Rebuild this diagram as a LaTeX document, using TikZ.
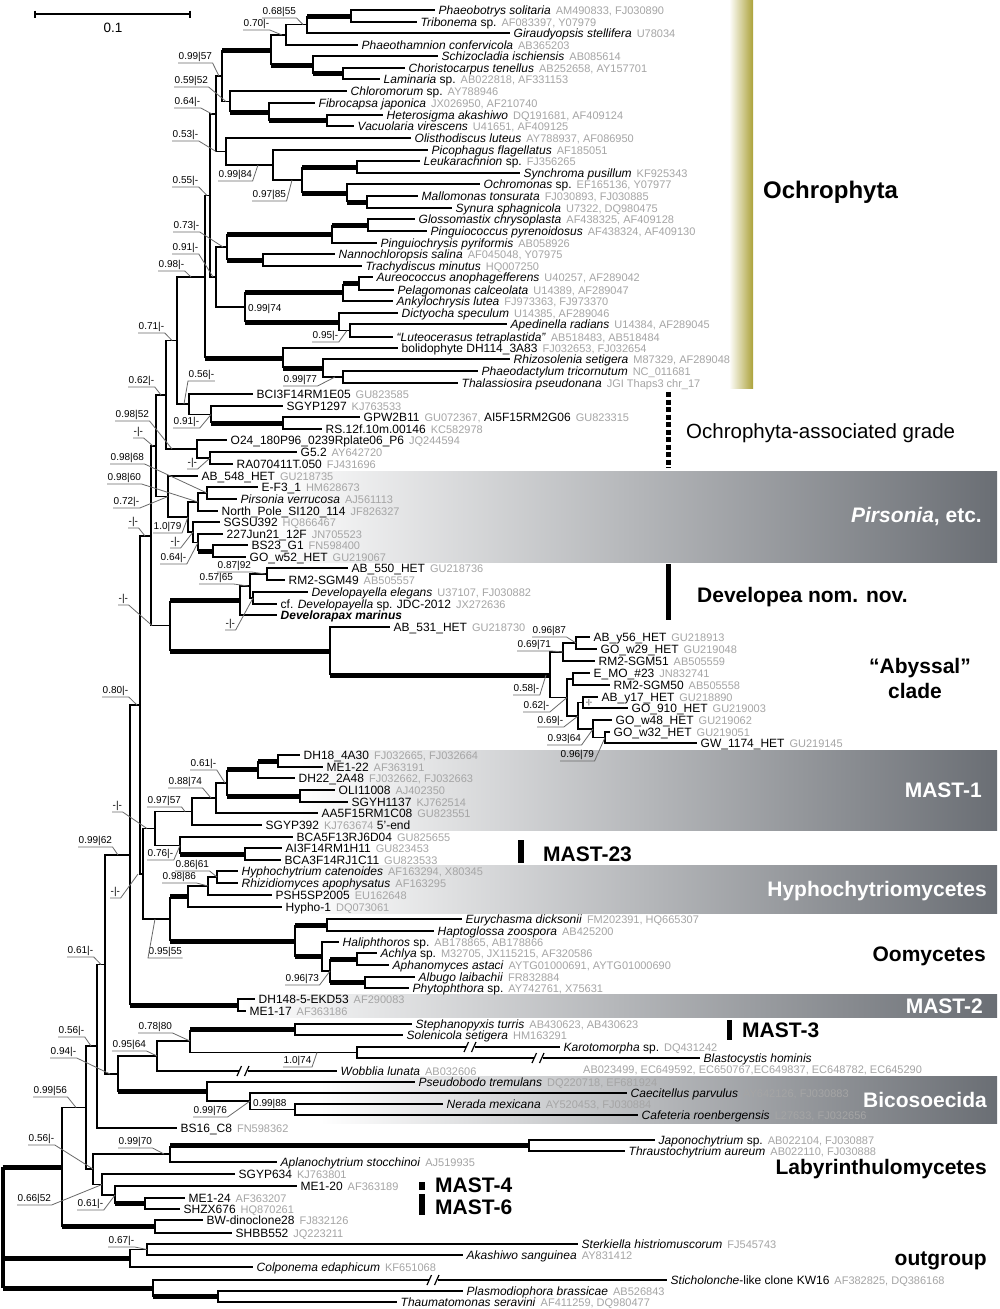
\documentclass[tikz,border=0pt]{standalone}
\usepackage{fontspec}
\setmainfont{Liberation Sans}
\usetikzlibrary{calc}
\definecolor{accg}{RGB}{165,165,165}
\definecolor{boxg}{RGB}{106,110,116}
\definecolor{oliv}{RGB}{172,162,58}
\definecolor{ptrg}{RGB}{105,105,105}
\newcommand\spnm[1]{\textit{#1}}
\newcommand\accn[1]{\hspace{5pt}{\fontsize{11}{11}\selectfont\color{accg}#1}}
\newcommand\lfx[4]{\coordinate (#1) at (#2,#3);\node[leaf] (#1l) at (#1) {#4};}
\newcommand\ndx[3]{\coordinate (#1) at (#2,#3);}
\newcommand\edx[2]{\draw[brn] (#1) |- (#2);}
\newcommand\etx[2]{\draw[brn] (#1) -- (#1|-#2);\draw[brt] (#1|-#2) -- (#2);}
\newcommand\svx[5]{\node[sup] (#1) at (#2,#3) {#4};\draw[ptr] (#1.south west) -- (#1.south east) -- (#5);}
\newcommand\svwx[5]{\node[sup] (#1) at (#2,#3) {#4};\draw[ptr] (#1.south east) -- (#1.south west) -- (#5);}
\newcommand\brkm[2]{\fill[white] (#1-4.5,#2-3) rectangle (#1+4.5,#2+3);
  \draw[line width=1.2pt] (#1-6,#2+5) -- (#1-1.5,#2-5) (#1+1.5,#2+5) -- (#1+6,#2-5);}
\begin{document}
\begin{tikzpicture}[x=1pt,y=-1pt,
  brn/.style={line width=1.6pt},
  brt/.style={line width=5pt},
  leaf/.style={anchor=base west,inner xsep=3.5pt,inner ysep=0pt,yshift=-4pt,font=\fontsize{12}{12}\selectfont},
  sup/.style={anchor=south west,inner xsep=0.5pt,inner ysep=1pt,font=\fontsize{10}{10}\selectfont},
  ptr/.style={draw=ptrg,line width=0.8pt},
  bl/.style={inner sep=0pt,font=\fontsize{21}{21}\selectfont\bfseries}]
\useasboundingbox (0,0) rectangle (1000,1309);
\fill[white] (0,0) rectangle (1000,1309);
% ---------- shaded boxes ----------
\shade[left color=white,right color=oliv] (729,0) rectangle (753,388);
\shade[left color=white,right color=boxg] (270,471) rectangle (997,562);
\shade[left color=white,right color=boxg] (300,750) rectangle (997,830);
\shade[left color=white,right color=boxg] (300,865) rectangle (997,913);
\shade[left color=white,right color=boxg] (240,994) rectangle (997,1017);
\shade[left color=white,right color=boxg] (320,1076) rectangle (997,1123);
% ---------- scale bar ----------
\coordinate (sb1) at (35,14); \coordinate (sb2) at (190,14);
\draw[line width=1.5pt] (sb1) -- (sb2);
\draw[line width=1.5pt] (35,10.5) -- (35,17.5) (190,10.5) -- (190,17.5);
\node[anchor=base,inner sep=0pt,font=\fontsize{13.5}{13.5}\selectfont] (sbl) at (113,32) {0.1};
% ---------- leaves ----------
\lfx{L1}{435}{10}{\spnm{Phaeobotrys solitaria}\accn{AM490833, FJ030890}}
\lfx{L2}{417}{22}{\spnm{Tribonema} sp.\accn{AF083397, Y07979}}
\lfx{L3}{510}{33}{\spnm{Giraudyopsis stellifera}\accn{U78034}}
\lfx{L4}{358}{45}{\spnm{Phaeothamnion confervicola}\accn{AB365203}}
\lfx{L5}{438}{56}{\spnm{Schizocladia ischiensis}\accn{AB085614}}
\lfx{L6}{405}{68}{\spnm{Choristocarpus tenellus}\accn{AB252658, AY157701}}
\lfx{L7}{380}{79}{\spnm{Laminaria} sp.\accn{AB022818, AF331153}}
\lfx{L8}{347}{91}{\spnm{Chloromorum} sp.\accn{AY788946}}
\lfx{L9}{315}{103}{\spnm{Fibrocapsa japonica}\accn{JX026950, AF210740}}
\lfx{L10}{383}{115}{\spnm{Heterosigma akashiwo}\accn{DQ191681, AF409124}}
\lfx{L11}{354}{126}{\spnm{Vacuolaria virescens}\accn{U41651, AF409125}}
\lfx{L12}{411}{138}{\spnm{Olisthodiscus luteus}\accn{AY788937, AF086950}}
\lfx{L13}{428}{150}{\spnm{Picophagus flagellatus}\accn{AF185051}}
\lfx{L14}{420}{161}{\spnm{Leukarachnion} sp.\accn{FJ356265}}
\lfx{L15}{520}{173}{\spnm{Synchroma pusillum}\accn{KF925343}}
\lfx{L16}{480}{184}{\spnm{Ochromonas} sp.\accn{EF165136, Y07977}}
\lfx{L17}{418}{196}{\spnm{Mallomonas tonsurata}\accn{FJ030893, FJ030885}}
\lfx{L18}{452}{208}{\spnm{Synura sphagnicola}\accn{U7322, DQ980475}}
\lfx{L19}{415}{219}{\spnm{Glossomastix chrysoplasta}\accn{AF438325, AF409128}}
\lfx{L20}{427}{231}{\spnm{Pinguiococcus pyrenoidosus}\accn{AF438324, AF409130}}
\lfx{L21}{377}{243}{\spnm{Pinguiochrysis pyriformis}\accn{AB058926}}
\lfx{L22}{335}{254}{\spnm{Nannochloropsis salina}\accn{AF045048, Y07975}}
\lfx{L23}{362}{266}{\spnm{Trachydiscus minutus}\accn{HQ007250}}
\lfx{L24}{373}{277}{\spnm{Aureococcus anophagefferens}\accn{U40257, AF289042}}
\lfx{L25}{394}{290}{\spnm{Pelagomonas calceolata}\accn{U14389, AF289047}}
\lfx{L26}{393}{301}{\spnm{Ankylochrysis lutea}\accn{FJ973363, FJ973370}}
\lfx{L27}{398}{313}{\spnm{Dictyocha speculum}\accn{U14385, AF289046}}
\lfx{L28}{507}{324}{\spnm{Apedinella radians}\accn{U14384, AF289045}}
\lfx{L29}{393}{337}{\spnm{“Luteocerasus tetraplastida”}\accn{AB518483, AB518484}}
\lfx{L30}{398}{348}{bolidophyte DH114\_3A83\accn{FJ032653, FJ032654}}
\lfx{L31}{510}{359}{\spnm{Rhizosolenia setigera}\accn{M87329, AF289048}}
\lfx{L32}{478}{371}{\spnm{Phaeodactylum tricornutum}\accn{NC\_011681}}
\lfx{L33}{458}{383}{\spnm{Thalassiosira pseudonana}\accn{JGI Thaps3 chr\_17}}
\lfx{L34}{253}{394}{BCI3F14RM1E05\accn{GU823585}}
\lfx{L35}{283}{406}{SGYP1297\accn{KJ763533}}
\lfx{L36}{360}{417}{GPW2B11\accn{GU072367,} AI5F15RM2G06\accn{GU823315}}
\lfx{L37}{322}{429}{RS.12f.10m.00146\accn{KC582978}}
\lfx{L38}{227}{440}{O24\_180P96\_0239Rplate06\_P6\accn{JQ244594}}
\lfx{L39}{297}{452}{G5.2\accn{AY642720}}
\lfx{L40}{233}{464}{RA070411T.050\accn{FJ431696}}
\lfx{L41}{198}{476}{AB\_548\_HET\accn{GU218735}}
\lfx{L42}{258}{487}{E-F3\_1\accn{HM628673}}
\lfx{L43}{237}{499}{\spnm{Pirsonia verrucosa}\accn{AJ561113}}
\lfx{L44}{218}{511}{North\_Pole\_SI120\_114\accn{JF826327}}
\lfx{L45}{220}{522}{SGSU392\accn{HQ866467}}
\lfx{L46}{223}{534}{227Jun21\_12F\accn{JN705523}}
\lfx{L47}{248}{545}{BS23\_G1\accn{FN598400}}
\lfx{L48}{246}{557}{GO\_w52\_HET\accn{GU219067}}
\lfx{L49}{348}{568}{AB\_550\_HET\accn{GU218736}}
\lfx{L50}{285}{580}{RM2-SGM49\accn{AB505557}}
\lfx{L51}{308}{592}{\spnm{Developayella elegans}\accn{U37107, FJ030882}}
\lfx{L52}{277}{604}{cf. \spnm{Developayella} sp. JDC-2012\accn{JX272636}}
\lfx{L53}{277}{615}{\textbf{\textit{Develorapax marinus}}}
\lfx{L54}{390}{627}{AB\_531\_HET\accn{GU218730}}
\lfx{L55}{590}{637}{AB\_y56\_HET\accn{GU218913}}
\lfx{L56}{597}{649}{GO\_w29\_HET\accn{GU219048}}
\lfx{L57}{595}{661}{RM2-SGM51\accn{AB505559}}
\lfx{L58}{590}{673}{E\_MO\_\#23\accn{JN832741}}
\lfx{L59}{610}{685}{RM2-SGM50\accn{AB505558}}
\lfx{L60}{598}{697}{AB\_y17\_HET\accn{GU218890}}
\lfx{L61}{628}{708}{GO\_910\_HET\accn{GU219003}}
\lfx{L62}{612}{720}{GO\_w48\_HET\accn{GU219062}}
\lfx{L63}{610}{732}{GO\_w32\_HET\accn{GU219051}}
\lfx{L64}{697}{743}{GW\_1174\_HET\accn{GU219145}}
\lfx{L65}{300}{755}{DH18\_4A30\accn{FJ032665, FJ032664}}
\lfx{L66}{323}{767}{ME1-22\accn{AF363191}}
\lfx{L67}{295}{778}{DH22\_2A48\accn{FJ032662, FJ032663}}
\lfx{L68}{335}{790}{OLI11008\accn{AJ402350}}
\lfx{L69}{348}{802}{SGYH1137\accn{KJ762514}}
\lfx{L70}{318}{813}{AA5F15RM1C08\accn{GU823551}}
\lfx{L71}{262}{825}{SGYP392\accn{KJ763674} 5’-end}
\lfx{L72}{293}{837}{BCA5F13RJ6D04\accn{GU825655}}
\lfx{L73}{282}{848}{AI3F14RM1H11\accn{GU823453}}
\lfx{L74}{281}{860}{BCA3F14RJ1C11\accn{GU823533}}
\lfx{L75}{238}{871}{\spnm{Hyphochytrium catenoides}\accn{AF163294, X80345}}
\lfx{L76}{238}{883}{\spnm{Rhizidiomyces apophysatus}\accn{AF163295}}
\lfx{L77}{272}{895}{PSH5SP2005\accn{EU162648}}
\lfx{L78}{282}{907}{Hypho-1\accn{DQ073061}}
\lfx{L79}{462}{919}{\spnm{Eurychasma dicksonii}\accn{FM202391, HQ665307}}
\lfx{L80}{434}{931}{\spnm{Haptoglossa zoospora}\accn{AB425200}}
\lfx{L81}{339}{942}{\spnm{Haliphthoros} sp.\accn{AB178865, AB178866}}
\lfx{L82}{377}{953}{\spnm{Achlya} sp.\accn{M32705, JX115215, AF320586}}
\lfx{L83}{389}{965}{\spnm{Aphanomyces astaci}\accn{AYTG01000691, AYTG01000690}}
\lfx{L84}{415}{977}{\spnm{Albugo laibachii}\accn{FR832884}}
\lfx{L85}{409}{988}{\spnm{Phytophthora} sp.\accn{AY742761, X75631}}
\lfx{L86}{255}{999}{DH148-5-EKD53\accn{AF290083}}
\lfx{L87}{246}{1011}{ME1-17\accn{AF363186}}
\lfx{L88}{412}{1024}{\spnm{Stephanopyxis turris}\accn{AB430623, AB430623}}
\lfx{L89}{403}{1035}{\spnm{Solenicola setigera}\accn{HM163291}}
\lfx{L90}{560}{1047}{\spnm{Karotomorpha} sp.\accn{DQ431242}}
\lfx{L91}{700}{1058}{\spnm{Blastocystis hominis}}
\node[anchor=base west,inner sep=0pt,font=\fontsize{11}{11}\selectfont,text=accg] (L91acc) at (583,1073) {AB023499, EC649592, EC650767,EC649837, EC648782, EC645290};
\lfx{L92}{337}{1071}{\spnm{Wobblia lunata}\accn{AB032606}}
\lfx{L93}{415}{1082}{\spnm{Pseudobodo tremulans}\accn{DQ220718, EF681924}}
\lfx{L94}{627}{1093}{\spnm{Caecitellus parvulus}\accn{AY642126, FJ030883}}
\lfx{L95}{443}{1104}{\spnm{Nerada mexicana}\accn{AY520453, FJ030884}}
\lfx{L96}{638}{1115}{\spnm{Cafeteria roenbergensis}\accn{L27633, FJ032656}}
\lfx{L97}{177}{1128}{BS16\_C8\accn{FN598362}}
\lfx{L98}{655}{1140}{\spnm{Japonochytrium} sp.\accn{AB022104, FJ030887}}
\lfx{L99}{625}{1151}{\spnm{Thraustochytrium aureum}\accn{AB022110, FJ030888}}
\lfx{L100}{277}{1162}{\spnm{Aplanochytrium stocchinoi}\accn{AJ519935}}
\lfx{L101}{235}{1174}{SGYP634\accn{KJ763801}}
\lfx{L102}{297}{1186}{ME1-20\accn{AF363189}}
\lfx{L103}{185}{1198}{ME1-24\accn{AF363207}}
\lfx{L104}{180}{1209}{SHZX676\accn{HQ870261}}
\lfx{L105}{203}{1220}{BW-dinoclone28\accn{FJ832126}}
\lfx{L106}{232}{1233}{SHBB552\accn{JQ223211}}
\lfx{L107}{578}{1244}{\spnm{Sterkiella histriomuscorum}\accn{FJ545743}}
\lfx{L108}{463}{1255}{\spnm{Akashiwo sanguinea}\accn{AY831412}}
\lfx{L109}{253}{1267}{\spnm{Colponema edaphicum}\accn{KF651068}}
\lfx{L110}{667}{1280}{\spnm{Sticholonche}-like clone KW16\accn{AF382825, DQ386168}}
\lfx{L111}{463}{1291}{\spnm{Plasmodiophora brassicae}\accn{AB526843}}
\lfx{L112}{397}{1302}{\spnm{Thaumatomonas seravini}\accn{AF411259, DQ980477}}
% ---------- internal nodes ----------
\ndx{n1}{351}{16}\ndx{n2}{307}{24.5}\ndx{n3}{286}{35}\ndx{n4}{343}{73.5}
\ndx{n5}{313}{65}\ndx{n6}{271}{50}\ndx{n7}{327}{120.5}\ndx{n8}{269}{112}
\ndx{n9}{230}{101.5}\ndx{n10}{222}{76}\ndx{n11}{357}{167}\ndx{n12}{367}{202}
\ndx{n13}{347}{193}\ndx{n14}{302}{180}\ndx{n15}{273}{165}\ndx{n16}{226}{151.5}
\ndx{n17}{216}{114}\ndx{n18}{368}{225}\ndx{n19}{332}{234}\ndx{n20}{263}{260}
\ndx{n21}{227}{247}\ndx{n22}{359}{283.5}\ndx{n23}{343}{292}\ndx{n24}{350}{330.5}
\ndx{n25}{339}{322}\ndx{n26}{245}{307}\ndx{n27}{216}{277}\ndx{n28}{210}{195.5}
\ndx{n29}{343}{377}\ndx{n30}{323}{368}\ndx{n31}{283}{358}\ndx{n32}{205}{277}
\ndx{n33}{283}{423}\ndx{n34}{211}{414.5}\ndx{n35}{189}{404}\ndx{n36}{177}{340.5}
\ndx{n37}{210}{458}\ndx{n38}{197}{449}\ndx{n39}{166}{395}\ndx{n40}{207}{493}
\ndx{n41}{198}{502}\ndx{n42}{213}{551}\ndx{n43}{198}{542.5}\ndx{n44}{193}{532}
\ndx{n45}{188}{517}\ndx{n46}{168}{496.5}\ndx{n47}{156}{446}\ndx{n48}{267}{574}
\ndx{n49}{253}{598}\ndx{n50}{250}{586}\ndx{n51}{240}{600.5}\ndx{n52}{576}{643}
\ndx{n53}{563}{652}\ndx{n54}{573}{679}\ndx{n55}{583}{702.5}\ndx{n56}{605}{737.5}
\ndx{n57}{593}{729}\ndx{n58}{578}{716}\ndx{n59}{567}{697.5}\ndx{n60}{550}{675}
\ndx{n61}{330}{651}\ndx{n62}{170}{625.5}\ndx{n63}{151}{536}\ndx{n64}{278}{761}
\ndx{n65}{258}{769.5}\ndx{n66}{300}{796}\ndx{n67}{227}{783}\ndx{n68}{216}{798}
\ndx{n69}{192}{811.5}\ndx{n70}{245}{854}\ndx{n71}{180}{845.5}\ndx{n72}{155}{828.5}
\ndx{n73}{217}{877}\ndx{n74}{208}{886}\ndx{n75}{188}{896.5}\ndx{n76}{327}{925}
\ndx{n77}{357}{959}\ndx{n78}{365}{982.5}\ndx{n79}{330}{971}\ndx{n80}{322}{956.5}
\ndx{n81}{295}{941}\ndx{n82}{170}{919}\ndx{n83}{143}{874}\ndx{n84}{140}{705}
\ndx{n85}{238}{1005}\ndx{n86}{130}{855}\ndx{n87}{295}{1029.5}\ndx{n88}{357}{1052.5}
\ndx{n89}{190}{1041}\ndx{n90}{157}{1056}\ndx{n91}{295}{1109.5}\ndx{n92}{250}{1101}
\ndx{n93}{207}{1091.5}\ndx{n94}{118}{1074}\ndx{n95}{105}{964.5}\ndx{n96}{97}{1046}
\ndx{n97}{529}{1145.5}\ndx{n98}{170}{1154}\ndx{n99}{145}{1203.5}\ndx{n100}{115}{1195}
\ndx{n101}{102}{1184.5}\ndx{n102}{93}{1169}\ndx{n103}{86}{1107.5}\ndx{n104}{155}{1226.5}
\ndx{n105}{62}{1167}\ndx{n106}{147}{1249.5}\ndx{n107}{130}{1258}\ndx{n108}{218}{1296.5}
\ndx{n109}{153}{1288}\ndx{root}{2.5}{1228}
% ---------- branches ----------
\edx{n1}{L1}\edx{n1}{L2}\etx{n2}{n1}\edx{n2}{L3}\edx{n3}{n2}\edx{n3}{L4}
\edx{n4}{L6}\edx{n4}{L7}\edx{n5}{L5}\etx{n5}{n4}\edx{n6}{n3}\etx{n6}{n5}
\edx{n7}{L10}\edx{n7}{L11}\edx{n8}{L9}\etx{n8}{n7}\edx{n9}{L8}\etx{n9}{n8}
\etx{n10}{n6}\edx{n10}{n9}\edx{n11}{L14}\edx{n11}{L15}\edx{n12}{L17}\edx{n12}{L18}
\edx{n13}{L16}\etx{n13}{n12}\etx{n14}{n11}\etx{n14}{n13}\edx{n15}{L13}\edx{n15}{n14}
\edx{n16}{L12}\edx{n16}{n15}\edx{n17}{n10}\edx{n17}{n16}\edx{n18}{L19}\edx{n18}{L20}
\etx{n19}{n18}\edx{n19}{L21}\edx{n20}{L22}\edx{n20}{L23}\etx{n21}{n19}\etx{n21}{n20}
\edx{n22}{L24}\edx{n22}{L25}\etx{n23}{n22}\edx{n23}{L26}\edx{n24}{L28}\edx{n24}{L29}
\edx{n25}{L27}\edx{n25}{n24}\etx{n26}{n23}\etx{n26}{n25}\edx{n27}{n21}\edx{n27}{n26}
\edx{n28}{n17}\edx{n28}{n27}\edx{n29}{L32}\edx{n29}{L33}\edx{n30}{L31}\edx{n30}{n29}
\edx{n31}{L30}\etx{n31}{n30}\edx{n32}{n28}\etx{n32}{n31}\edx{n33}{L36}\edx{n33}{L37}
\edx{n34}{L35}\etx{n34}{n33}\edx{n35}{L34}\edx{n35}{n34}\edx{n36}{n32}\edx{n36}{n35}
\edx{n37}{L39}\edx{n37}{L40}\edx{n38}{L38}\edx{n38}{n37}\edx{n39}{n36}\edx{n39}{n38}
\edx{n40}{L42}\edx{n40}{L43}\edx{n41}{n40}\edx{n41}{L44}\edx{n42}{L47}\edx{n42}{L48}
\edx{n43}{L46}\etx{n43}{n42}\edx{n44}{L45}\edx{n44}{n43}\edx{n45}{n41}\edx{n45}{n44}
\edx{n46}{L41}\edx{n46}{n45}\edx{n47}{n39}\edx{n47}{n46}\edx{n48}{L49}\edx{n48}{L50}
\edx{n49}{L51}\edx{n49}{L52}\edx{n50}{n48}\edx{n50}{n49}\edx{n51}{n50}\edx{n51}{L53}
\edx{n52}{L55}\edx{n52}{L56}\edx{n53}{n52}\edx{n53}{L57}\edx{n54}{L58}\edx{n54}{L59}
\edx{n55}{L60}\edx{n55}{L61}\edx{n56}{L63}\edx{n56}{L64}\edx{n57}{L62}\edx{n57}{n56}
\edx{n58}{n55}\edx{n58}{n57}\edx{n59}{n54}\edx{n59}{n58}\edx{n60}{n53}\edx{n60}{n59}
\edx{n61}{L54}\etx{n61}{n60}\etx{n62}{n51}\etx{n62}{n61}\edx{n63}{n47}\edx{n63}{n62}
\edx{n64}{L65}\edx{n64}{L66}\etx{n65}{n64}\edx{n65}{L67}\edx{n66}{L68}\edx{n66}{L69}
\etx{n67}{n65}\etx{n67}{n66}\edx{n68}{n67}\edx{n68}{L70}\edx{n69}{n68}\edx{n69}{L71}
\edx{n70}{L73}\edx{n70}{L74}\edx{n71}{L72}\etx{n71}{n70}\edx{n72}{n69}\edx{n72}{n71}
\edx{n73}{L75}\edx{n73}{L76}\edx{n74}{n73}\edx{n74}{L77}\edx{n75}{n74}\edx{n75}{L78}
\edx{n76}{L79}\edx{n76}{L80}\edx{n77}{L82}\edx{n77}{L83}\edx{n78}{L84}\edx{n78}{L85}
\etx{n79}{n77}\etx{n79}{n78}\edx{n80}{L81}\edx{n80}{n79}\etx{n81}{n76}\etx{n81}{n80}
\etx{n82}{n75}\etx{n82}{n81}\edx{n83}{n72}\edx{n83}{n82}\edx{n84}{n63}\edx{n84}{n83}
\edx{n85}{L86}\edx{n85}{L87}\edx{n86}{n84}\etx{n86}{n85}\edx{n87}{L88}\edx{n87}{L89}
\edx{n88}{L90}\edx{n88}{L91}\etx{n89}{n87}\edx{n89}{n88}\edx{n90}{n89}\edx{n90}{L92}
\edx{n91}{L95}\edx{n91}{L96}\edx{n92}{L94}\edx{n92}{n91}\edx{n93}{L93}\edx{n93}{n92}
\edx{n94}{n90}\etx{n94}{n93}\edx{n95}{n86}\edx{n95}{n94}\edx{n96}{n95}\edx{n96}{L97}
\edx{n97}{L98}\edx{n97}{L99}\etx{n98}{n97}\edx{n98}{L100}\edx{n99}{L103}\edx{n99}{L104}
\edx{n100}{L102}\etx{n100}{n99}\edx{n101}{L101}\edx{n101}{n100}\edx{n102}{n98}\edx{n102}{n101}
\edx{n103}{n96}\edx{n103}{n102}\edx{n104}{L105}\edx{n104}{L106}\edx{n105}{n103}\etx{n105}{n104}
\edx{n106}{L107}\edx{n106}{L108}\edx{n107}{n106}\edx{n107}{L109}\edx{n108}{L111}\edx{n108}{L112}
\edx{n109}{L110}\etx{n109}{n108}
\etx{root}{n105}\etx{root}{n107}\etx{root}{n109}
\draw[line width=4pt] (root|-n105) -- (root|-n109);
% ---------- breaks ----------
\brkm{470}{1047}\brkm{538}{1058}\brkm{243}{1071}\brkm{433}{1280}
% ---------- support values ----------
\svx{s1}{262}{18}{0.68|55}{[xshift=-4pt]n2}
\svx{s2}{243}{30}{0.70|-}{[xshift=-4pt]n3}
\svx{s3}{178}{63}{0.99|57}{[xshift=-3pt]n10}
\svx{s4}{174}{87}{0.59|52}{[xshift=-4pt]n9}
\svx{s5}{174}{108}{0.64|-}{[xshift=-4pt]n17}
\svx{s6}{172}{141}{0.53|-}{[xshift=-10pt]n16}
\svx{s7}{218}{181}{0.99|84}{[xshift=-15pt]n15}
\svx{s8}{252}{201}{0.97|85}{[xshift=-10pt]n14}
\svx{s9}{172}{187}{0.55|-}{[xshift=-3pt]n28}
\svx{s10}{173}{232}{0.73|-}{[xshift=-4pt]n21}
\svx{s11}{172}{254}{0.91|-}{[xshift=-3pt]n27}
\svx{s12}{158}{271}{0.98|-}{[xshift=-14pt]n32}
\node[anchor=base west,inner sep=0pt,font=\fontsize{10}{10}\selectfont] (s13) at (248,311) {0.99|74};
\svx{s14}{312}{342}{0.95|-}{[xshift=-3pt]n24}
\svx{s15}{138}{333}{0.71|-}{[xshift=-5pt]n36}
\svx{s16}{283}{386}{0.99|77}{[xshift=-8pt]n29}
\svwx{s17}{188}{381}{0.56|-}{[xshift=-5pt]n35}
\svx{s18}{128}{387}{0.62|-}{[xshift=-5pt]n39}
\svx{s19}{173}{428}{0.91|-}{n34}
\svx{s20}{115}{421}{0.98|52}{[xshift=-25pt]n38}
\svx{s21}{133}{438}{-|-}{[xshift=-3pt]n47}
\svx{s22}{187}{469}{-|-}{n37}
\svx{s23}{110}{464}{0.98|68}{n40}
\svx{s24}{107}{484}{0.98|60}{n41}
\svx{s25}{113}{508}{0.72|-}{n46}
\svx{s26}{128}{528}{-|-}{[xshift=-6pt]n63}
\svx{s27}{153}{533}{1.0|79}{n45}
\svx{s28}{170}{548}{-|-}{n44}
\svx{s29}{160}{564}{0.64|-}{n43}
\svx{s30}{217}{572}{0.87|92}{[xshift=-2pt]n48}
\svx{s31}{199}{584}{0.57|65}{[xshift=-2pt]n50}
\svx{s32}{118}{605}{-|-}{[xshift=-18pt]n62}
\svx{s33}{225}{630}{-|-}{n49}
\svx{s34}{532}{637}{0.96|87}{n52}
\svx{s35}{517}{651}{0.69|71}{n53}
\svx{s36}{513}{695}{0.58|-}{[xshift=-4pt]n60}
\svx{s37}{523}{712}{0.62|-}{n59}
\svx{s38}{537}{727}{0.69|-}{n58}
\node[inner sep=0pt,font=\fontsize{7}{7}\selectfont] (s39) at (589,703) {-|-};
\svx{s40}{547}{745}{0.93|64}{n57}
\svx{s41}{560}{761}{0.96|79}{n56}
\svx{s42}{102}{697}{0.80|-}{[xshift=-3pt]n84}
\svx{s43}{190}{770}{0.61|-}{[xshift=-2pt]n67}
\svx{s44}{168}{788}{0.88|74}{[xshift=-5pt]n68}
\svx{s45}{147}{807}{0.97|57}{[xshift=-7pt]n69}
\svx{s46}{112}{812}{-|-}{[xshift=-8pt]n72}
\svx{s47}{147}{860}{0.76|-}{n71}
\svx{s48}{78}{847}{0.99|62}{[xshift=-12pt]n86}
\svx{s49}{175}{871}{0.86|61}{n73}
\svx{s50}{162}{883}{0.98|86}{n74}
\svx{s51}{110}{898}{-|-}{[xshift=-5pt]n83}
\svwx{s52}{148}{958}{0.95|55}{[xshift=-15pt]n82}
\svx{s53}{285}{985}{0.96|73}{n79}
\svx{s54}{67}{957}{0.61|-}{[xshift=-4pt]n95}
\svx{s55}{138}{1033}{0.78|80}{n89}
\svx{s56}{112}{1051}{0.95|64}{n90}
\svx{s57}{283}{1067}{1.0|74}{[xshift=-40pt]n88}
\svx{s58}{58}{1037}{0.56|-}{[xshift=-6pt]n96}
\svx{s59}{50}{1058}{0.94|-}{[xshift=-8pt]n94}
\svx{s60}{33}{1097}{0.99|56}{[xshift=-10pt]n103}
\svx{s61}{193}{1117}{0.99|76}{n92}
\node[anchor=base west,inner sep=0pt,font=\fontsize{10}{10}\selectfont] (s62) at (253,1106) {0.99|88};
\svx{s63}{118}{1148}{0.99|70}{[xshift=-6pt]n98}
\svx{s64}{28}{1145}{0.56|-}{n102}
\svx{s65}{17}{1205}{0.66|52}{n101}
\svx{s66}{77}{1210}{0.61|-}{n100}
\svx{s67}{108}{1247}{0.67|-}{n106}
% ---------- clade bars ----------
\draw[line width=4.5pt,dash pattern=on 5pt off 2.5pt] (668.5,392) -- (668.5,468);
\fill (666,564) rectangle (671,620);
\fill (518,840) rectangle (524,863);
\fill (727,1020) rectangle (732,1040);
\fill (419,1182) rectangle (425,1190);
\fill (419,1194) rectangle (425,1215);
% ---------- clade labels ----------
\node[inner sep=0pt,anchor=base west,font=\fontsize{24}{24}\selectfont\bfseries] (tOch) at (763,198) {Ochrophyta};
\node[inner sep=0pt,anchor=base west,font=\fontsize{20.5}{20.5}\selectfont] (tOag) at (686,438) {Ochrophyta-associated grade};
\node[bl,anchor=base east,text=white] (tPir) at (982,522) {\textit{Pirsonia}, etc.};
\node[bl,anchor=base west] (tDev) at (697,602) {Developea nom. nov.};
\node[bl,anchor=base] (tAb1) at (920,673) {“Abyssal”};
\node[bl,anchor=base] (tAb2) at (915,698) {clade};
\node[bl,anchor=base east,text=white] (tM1) at (982,797) {MAST-1};
\node[bl,anchor=base west] (tM23) at (543,861) {MAST-23};
\node[bl,anchor=base east,text=white] (tHy) at (987,896) {Hyphochytriomycetes};
\node[bl,anchor=base east] (tOo) at (986,961) {Oomycetes};
\node[bl,anchor=base east,text=white] (tM2) at (983,1013) {MAST-2};
\node[bl,anchor=base west] (tM3) at (742,1037) {MAST-3};
\node[bl,anchor=base east,text=white] (tBi) at (987,1107) {Bicosoecida};
\node[bl,anchor=base east] (tLa) at (987,1174) {Labyrinthulomycetes};
\node[bl,anchor=base west] (tM4) at (435,1192) {MAST-4};
\node[bl,anchor=base west] (tM6) at (435,1214) {MAST-6};
\node[bl,anchor=base east] (tOut) at (987,1265) {outgroup};
\end{tikzpicture}
\end{document}
